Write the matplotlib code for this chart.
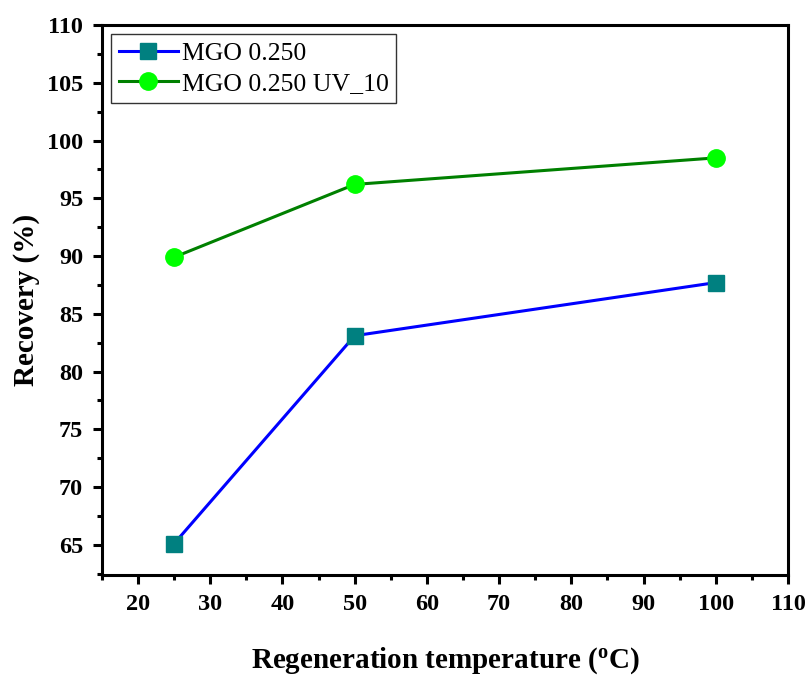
import matplotlib.pyplot as plt
from matplotlib.ticker import MultipleLocator

temps = [25, 50, 100]
mgo = [65.1, 83.1, 87.7]
mgo_uv = [89.9, 96.2, 98.5]

plt.rcParams['font.family'] = ['Liberation Serif', 'DejaVu Serif']

fig = plt.figure(figsize=(8.09, 6.77), dpi=100)
ax = fig.add_axes([0.126, 0.151, 0.848, 0.812])

ax.plot(temps, mgo, color='#0000ff', lw=2.2, marker='s', ms=11.5,
        mfc='#008080', mec='#008080', label='MGO 0.250')
ax.plot(temps, mgo_uv, color='#008000', lw=2.2, marker='o', ms=12.5,
        mfc='#00ff00', mec='#00ff00', label='MGO 0.250 UV_10')

ax.set_xlim(15, 110)
ax.set_ylim(62.4, 110)
ax.xaxis.set_major_locator(MultipleLocator(10))
ax.xaxis.set_minor_locator(MultipleLocator(5))
ax.yaxis.set_major_locator(MultipleLocator(5))
ax.yaxis.set_minor_locator(MultipleLocator(2.5))
ax.set_xticks(range(20, 111, 10))

for s in ax.spines.values():
    s.set_linewidth(2.2)
ax.tick_params(which='major', direction='out', length=6.5, width=2.2,
               labelsize=17.5, pad=7, top=False, right=False)
ax.tick_params(which='minor', direction='out', length=3.6, width=2.2,
               top=False, right=False)
for lbl in ax.get_xticklabels() + ax.get_yticklabels():
    lbl.set_fontweight('bold')

ax.set_xlabel('Regeneration temperature ($\\mathregular{^{o}}$C)',
              fontsize=21, fontweight='bold', labelpad=22)
ax.set_ylabel('Recovery (%)', fontsize=21, fontweight='bold', labelpad=5)

leg = ax.legend(loc='upper left', fontsize=18.5, frameon=True, fancybox=False,
                edgecolor='black', borderaxespad=0.35, handlelength=2.3,
                handletextpad=0.15, borderpad=0.3, labelspacing=0.3)
leg.get_frame().set_linewidth(1.0)

fig.savefig('out.png', dpi=100)
